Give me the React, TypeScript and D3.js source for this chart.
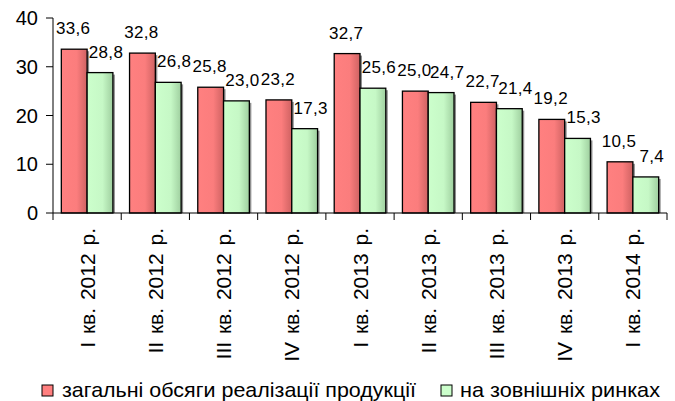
import React from 'react';
import * as d3 from 'd3';

const categories = [
  'I кв. 2012 р.',
  'II кв. 2012 р.',
  'III кв. 2012 р.',
  'IV кв. 2012 р.',
  'I кв. 2013 р.',
  'II кв. 2013 р.',
  'III кв. 2013 р.',
  'IV кв. 2013 р.',
  'I кв. 2014 р.',
];
const totalSales = [33.6, 32.8, 25.8, 23.2, 32.7, 25.0, 22.7, 19.2, 10.5];
const externalSales = [28.8, 26.8, 23.0, 17.3, 25.6, 24.7, 21.4, 15.3, 7.4];
const seriesNames = ['загальні обсяги реалізації продукції', 'на зовнішніх ринках'];
const yTicks = [0, 10, 20, 30, 40];

const W = 675;
const H = 401;
const FONT = "Arial, 'Liberation Sans', sans-serif";

const series = [
  { key: 'total', values: totalSales, fill: 'url(#gradRed)', swatch: '#ff7f7f', dx: -1 },
  { key: 'external', values: externalSales, fill: 'url(#gradGreen)', swatch: '#ccffcc', dx: 6 },
];

const fmt = (v: number) => d3.format('.1f')(v).replace('.', ',');

const App: React.FC = () => {
  const margin = { left: 53, right: 8, top: 18, bottom: 188 };
  const x = d3.scaleBand<string>()
    .domain(categories)
    .range([margin.left, W - margin.right])
    .padding(0);
  const bw = x.bandwidth();
  const xs = d3.scaleBand<string>()
    .domain(series.map(s => s.key))
    .range([bw * 0.122, bw * 0.878])
    .padding(0);
  const y = d3.scaleLinear().domain([0, 40]).range([H - margin.bottom, margin.top]);
  const y0 = y(0);

  return (
    <svg width={W} height={H} style={{ position: 'absolute', left: 0, top: 0, background: '#fff' }}>
      <defs>
        <linearGradient id="gradRed" x1="0" x2="1" y1="0" y2="0">
          <stop offset="0" stopColor="#ff8080" />
          <stop offset="0.6" stopColor="#fb7d7d" />
          <stop offset="1" stopColor="#cf6262" />
        </linearGradient>
        <linearGradient id="gradGreen" x1="0" x2="1" y1="0" y2="0">
          <stop offset="0" stopColor="#ccffcc" />
          <stop offset="0.6" stopColor="#c6f8c6" />
          <stop offset="1" stopColor="#9fcf9f" />
        </linearGradient>
      </defs>

      {/* bars */}
      {categories.map((c, i) => (
        <g key={c}>
          {series.map(s => {
            const bx = (x(c) as number) + (xs(s.key) as number);
            const by = y(s.values[i]);
            return (
              <g key={s.key}>
                <rect x={bx + 2} y={by + 2} width={xs.bandwidth()} height={y0 - by - 2} fill="#333" opacity={0.55} />
                <rect x={bx} y={by} width={xs.bandwidth()} height={y0 - by} fill={s.fill} stroke="#000" strokeWidth={1.3} />
              </g>
            );
          })}
        </g>
      ))}

      {/* data labels */}
      {categories.map((c, i) => (
        <g key={'l' + c}>
          {series.map(s => {
            const cx = (x(c) as number) + (xs(s.key) as number) + xs.bandwidth() / 2 + s.dx;
            return (
              <text key={s.key} x={cx} y={y(s.values[i]) - 15} textAnchor="middle"
                fontFamily={FONT} fontSize={17} letterSpacing={0.3} fill="#000">
                {fmt(s.values[i])}
              </text>
            );
          })}
        </g>
      ))}

      {/* y axis */}
      <line x1={margin.left} x2={margin.left} y1={y(40)} y2={y0} stroke="#000" strokeWidth={1} />
      {yTicks.map(t => (
        <g key={t}>
          <line x1={margin.left - 7} x2={margin.left} y1={y(t)} y2={y(t)} stroke="#000" />
          <text x={38} y={y(t)} dy="0.36em" textAnchor="end" fontFamily={FONT} fontSize={20} fill="#000">{t}</text>
        </g>
      ))}

      {/* x axis */}
      <line x1={margin.left} x2={W - margin.right} y1={y0} y2={y0} stroke="#000" strokeWidth={1} />
      {[...categories.map(c => x(c) as number), W - margin.right].map((tx, i) => (
        <line key={i} x1={tx} x2={tx} y1={y0} y2={y0 + 7} stroke="#000" />
      ))}
      {categories.map(c => {
        const cx = (x(c) as number) + bw / 2 + 7.5;
        return (
          <text key={'c' + c} transform={`translate(${cx},${y0 + 15}) rotate(-90)`} textAnchor="end"
            fontFamily={FONT} fontSize={21} fill="#000" style={{ wordSpacing: '2px' }}>
            {c}
          </text>
        );
      })}

      {/* legend */}
      <rect x={42} y={385} width={11} height={11} fill={series[0].swatch} stroke="#000" />
      <text x={62} y={396.5} fontFamily={FONT} fontSize={21} fill="#000" textLength={354} lengthAdjust="spacingAndGlyphs">
        {seriesNames[0]}
      </text>
      <rect x={441} y={385} width={11} height={11} fill={series[1].swatch} stroke="#000" />
      <text x={460} y={396.5} fontFamily={FONT} fontSize={21} fill="#000" textLength={200} lengthAdjust="spacingAndGlyphs">
        {seriesNames[1]}
      </text>
    </svg>
  );
};

export default App;
